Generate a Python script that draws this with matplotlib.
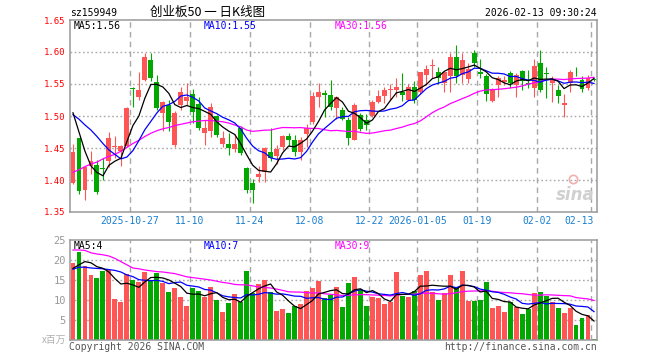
import numpy as np
import pandas as pd
import matplotlib
matplotlib.use('Agg')
import matplotlib.pyplot as plt

# DATA

opens = [1.395, 1.466, 1.384, 1.422, 1.423, 1.418, 1.429, 1.452, 1.445, 1.453,
         1.543, 1.529, 1.557, 1.588, 1.553, 1.505, 1.517, 1.454, 1.517, 1.523,
         1.535, 1.518, 1.474, 1.477, 1.500, 1.456, 1.456, 1.448, 1.481, 1.419,
         1.396, 1.405, 1.412, 1.444, 1.437, 1.452, 1.469, 1.463, 1.444, 1.472,
         1.490, 1.530, 1.536, 1.533, 1.512, 1.509, 1.494, 1.463, 1.502, 1.494,
         1.500, 1.522, 1.531, 1.541, 1.540, 1.538, 1.525, 1.546, 1.537, 1.564,
         1.578, 1.568, 1.551, 1.562, 1.592, 1.564, 1.558, 1.599, 1.568, 1.563,
         1.524, 1.548, 1.553, 1.567, 1.548, 1.571, 1.551, 1.544, 1.583, 1.567,
         1.552, 1.540, 1.517, 1.551, 1.569, 1.556, 1.543, 1.557]
highs = [1.456, 1.466, 1.421, 1.445, 1.431, 1.435, 1.475, 1.468, 1.455, 1.514,
         1.546, 1.568, 1.598, 1.598, 1.564, 1.524, 1.525, 1.508, 1.546, 1.552,
         1.542, 1.530, 1.494, 1.521, 1.502, 1.476, 1.473, 1.472, 1.484, 1.421,
         1.401, 1.422, 1.451, 1.481, 1.455, 1.470, 1.474, 1.470, 1.467, 1.488,
         1.538, 1.551, 1.541, 1.556, 1.531, 1.514, 1.499, 1.520, 1.504, 1.503,
         1.525, 1.541, 1.546, 1.550, 1.559, 1.567, 1.550, 1.554, 1.569, 1.579,
         1.589, 1.576, 1.571, 1.598, 1.611, 1.598, 1.583, 1.603, 1.589, 1.566,
         1.543, 1.562, 1.562, 1.571, 1.567, 1.572, 1.572, 1.589, 1.603, 1.577,
         1.563, 1.548, 1.535, 1.572, 1.577, 1.563, 1.564, 1.558]
lows = [1.394, 1.378, 1.368, 1.410, 1.378, 1.400, 1.421, 1.434, 1.422, 1.452,
        1.514, 1.525, 1.554, 1.555, 1.509, 1.477, 1.476, 1.451, 1.510, 1.517,
        1.489, 1.478, 1.454, 1.467, 1.467, 1.452, 1.439, 1.443, 1.439, 1.380,
        1.364, 1.397, 1.397, 1.429, 1.425, 1.447, 1.453, 1.437, 1.432, 1.452,
        1.488, 1.514, 1.499, 1.509, 1.496, 1.494, 1.455, 1.462, 1.476, 1.478,
        1.499, 1.520, 1.521, 1.525, 1.529, 1.524, 1.524, 1.520, 1.535, 1.548,
        1.559, 1.550, 1.538, 1.538, 1.552, 1.551, 1.551, 1.577, 1.560, 1.524,
        1.522, 1.530, 1.548, 1.543, 1.529, 1.541, 1.543, 1.530, 1.538, 1.528,
        1.522, 1.521, 1.499, 1.537, 1.562, 1.538, 1.541, 1.555]
closes = [1.443, 1.383, 1.421, 1.430, 1.382, 1.417, 1.465, 1.453, 1.453, 1.512,
          1.542, 1.540, 1.592, 1.560, 1.513, 1.522, 1.490, 1.504, 1.537, 1.529,
          1.506, 1.482, 1.482, 1.514, 1.471, 1.465, 1.450, 1.456, 1.442, 1.384,
          1.384, 1.409, 1.450, 1.435, 1.449, 1.469, 1.462, 1.444, 1.463, 1.482,
          1.531, 1.537, 1.533, 1.514, 1.529, 1.496, 1.465, 1.517, 1.479, 1.486,
          1.522, 1.531, 1.540, 1.542, 1.546, 1.533, 1.546, 1.525, 1.568, 1.574,
          1.579, 1.560, 1.568, 1.592, 1.562, 1.588, 1.573, 1.583, 1.566, 1.535,
          1.542, 1.559, 1.557, 1.551, 1.564, 1.554, 1.550, 1.578, 1.540, 1.566,
          1.556, 1.532, 1.520, 1.568, 1.568, 1.542, 1.560, 1.556]
volumes = [19.3, 22.1, 18.5, 16.25, 15.5, 17.25, 17.5, 10.25, 9.5, 16.5,
           15.1, 14.5, 17.0, 15.0, 16.75, 14.3, 12.0, 13.0, 10.75, 8.5,
           13.0, 12.25, 10.8, 13.25, 10.0, 7.0, 9.25, 11.5, 9.5, 17.25,
           11.75, 14.0, 15.0, 12.0, 7.25, 7.75, 6.75, 8.5, 9.0, 12.25,
           13.0, 14.75, 10.5, 11.25, 13.25, 8.25, 14.25, 15.75, 12.5, 8.5,
           10.75, 10.5, 9.0, 9.5, 17.0, 11.0, 10.75, 12.25, 16.25, 17.25,
           12.0, 10.0, 11.75, 16.25, 13.25, 17.25, 9.75, 9.75, 10.0, 14.5,
           8.0, 8.5, 7.0, 9.5, 8.25, 6.5, 7.75, 11.75, 12.0, 11.0,
           9.5, 8.0, 6.75, 8.0, 3.75, 5.5, 6.2, 0.25]

# moving averages at the left edge depend on days before the window,
# so these start values are read off the picture
ma5_head = [1.505, 1.475, 1.445, 1.422]
ma10_head = [1.502, 1.495, 1.486, 1.478, 1.468, 1.457, 1.447, 1.440, 1.433]
ma30_head = [1.412, 1.416, 1.421, 1.425, 1.428, 1.433, 1.437, 1.440, 1.445, 1.451,
             1.457, 1.462, 1.468, 1.473, 1.477, 1.480, 1.482, 1.485, 1.487, 1.489,
             1.491, 1.492, 1.493, 1.493, 1.492, 1.491, 1.489, 1.486, 1.483]
vma5_head = [17.9, 18.8, 19.6, 19.3]
vma10_head = [17.7, 18.2, 18.2, 18.0, 17.9, 17.8, 17.6, 17.4, 17.0]
vma30_head = [22.5, 22.5, 22.4, 21.8, 21.5, 21.3, 21.0, 20.4, 19.6, 18.8,
              18.0, 17.8, 17.5, 17.3, 17.1, 17.0, 16.8, 16.6, 16.2, 15.8,
              15.6, 15.4, 15.2, 15.0, 14.7, 14.4, 14.2, 13.9, 13.8]

tick_idx = [10, 20, 30, 40, 50, 58, 68, 78, 87]
tick_labels = ['2025-10-27', '11-10', '11-24', '12-08', '12-22',
               '2026-01-05', '01-19', '02-02', '02-13']
price_ticks = [1.35, 1.40, 1.45, 1.50, 1.55, 1.60, 1.65]
vol_ticks = [5, 10, 15, 20, 25]

RED = '#ff5555'
GREEN = '#00a800'
GRID = '#a8a8a8'
MONO = 'DejaVu Sans Mono'
CJK = ['Noto Sans CJK SC', 'DejaVu Sans']


def moving(values, window, head):
    ma = pd.Series(values).rolling(window).mean().to_numpy()
    ma[:len(head)] = head
    return ma


o = np.array(opens)
h = np.array(highs)
l = np.array(lows)
c = np.array(closes)
v = np.array(volumes)
n = len(c)
x = np.arange(n) + 0.5
cols = np.where(c >= o, RED, GREEN)

fig = plt.figure(figsize=(6.6, 3.6), dpi=100)
ax = fig.add_axes([70 / 660, 1 - 212 / 360, 527 / 660, 192 / 360])
axv = fig.add_axes([70 / 660, 1 - 340 / 360, 527 / 660, 100 / 360])

# PRICE PANEL
for yv in price_ticks[1:-1]:
    ax.axhline(yv, color=GRID, lw=1.0, ls=(0, (1.2, 1.8)), zorder=0)
for t in tick_idx:
    ax.axvline(t, color=GRID, lw=1.0, ls=(0, (4, 3)), zorder=0)

ax.vlines(x, l, h, colors=cols, lw=0.8, zorder=2)
ax.bar(x, np.maximum(np.abs(c - o), 0.0012), bottom=np.minimum(o, c),
       width=0.82, color=cols, linewidth=0, zorder=3)

ax.plot(x, moving(closes, 30, ma30_head), color='#ff00ff', lw=0.9, zorder=4)
ax.plot(x, moving(closes, 10, ma10_head), color='#0000ff', lw=0.9, zorder=4)
ax.plot(x, moving(closes, 5, ma5_head), color='black', lw=0.9, zorder=5)

ax.set_xlim(0, n)
ax.set_ylim(1.35, 1.65)
ax.set_xticks([])
ax.set_yticks(price_ticks)
ax.set_yticklabels(['%.2f' % p for p in price_ticks], color='red',
                   fontsize=6.5, family=MONO)
ax.tick_params(axis='y', length=0, pad=3)

for i, (t, lab) in enumerate(zip(tick_idx, tick_labels)):
    if i == len(tick_idx) - 1:
        ax.text(t + 0.4, -0.047, lab, transform=ax.get_xaxis_transform(),
                ha='right', va='center', fontsize=7, family=MONO, color='#1a7fd0')
    else:
        ax.text(t, -0.047, lab, transform=ax.get_xaxis_transform(),
                ha='center', va='center', fontsize=7, family=MONO, color='#1a7fd0')

# sina watermark
ax.text(0.995, 0.04, 'sina', transform=ax.transAxes, ha='right', va='bottom',
        fontsize=12, style='italic', weight='bold', color='#d0d0d0', zorder=1)
ax.plot([0.955], [0.17], marker='o', ms=6, mfc='none', mec='#f0b0b0', mew=1.2,
        transform=ax.transAxes, zorder=1)

# VOLUME PANEL
for yv in vol_ticks[:-1]:
    axv.axhline(yv, color=GRID, lw=1.0, ls=(0, (1.2, 1.8)), zorder=0)
for t in tick_idx:
    axv.axvline(t, color=GRID, lw=1.0, ls=(0, (4, 3)), zorder=0)

axv.bar(x, v, width=0.82, color=cols, linewidth=0, zorder=2)
axv.plot(x, moving(volumes, 30, vma30_head), color='#ff00ff', lw=0.9, zorder=4)
axv.plot(x, moving(volumes, 10, vma10_head), color='#0000ff', lw=0.9, zorder=4)
axv.plot(x, moving(volumes, 5, vma5_head), color='black', lw=0.9, zorder=5)

axv.set_xlim(0, n)
axv.set_ylim(0, 25)
axv.set_xticks([])
axv.set_yticks(vol_ticks)
axv.set_yticklabels([str(t) for t in vol_ticks], color='#999999',
                    fontsize=7.5, family=MONO)
axv.tick_params(axis='y', length=0, pad=3)

for a in (ax, axv):
    for s in a.spines.values():
        s.set_color('#999999')
        s.set_linewidth(1.1)

# TEXTS
def ftext(px, py, s, **kw):
    fig.text(px / 660, 1 - py / 360, s, va='center', **kw)

ftext(70, 13, 'sz159949', ha='left', fontsize=7, family=MONO, color='black')
ftext(150, 12.5, '创业板50 一 日K线图', ha='left', fontsize=9, family=CJK, color='black')
ftext(597, 12.5, '2026-02-13 09:30:24', ha='right', fontsize=7, family=MONO, color='black')

ftext(74, 26, 'MA5:1.56', ha='left', fontsize=7, family=MONO, color='black')
ftext(204, 26, 'MA10:1.55', ha='left', fontsize=7, family=MONO, color='#0000ff')
ftext(335, 26, 'MA30:1.56', ha='left', fontsize=7, family=MONO, color='#ff00ff')

ftext(74, 246, 'MA5:4', ha='left', fontsize=7, family=MONO, color='black')
ftext(204, 246, 'MA10:7', ha='left', fontsize=7, family=MONO, color='#0000ff')
ftext(335, 246, 'MA30:9', ha='left', fontsize=7, family=MONO, color='#ff00ff')

ftext(66, 340, 'x百万', ha='right', fontsize=7, family=CJK, color='#b0b0b0')
ftext(69, 347, 'Copyright 2026 SINA.COM', ha='left', fontsize=7, family=MONO, color='#555555')
ftext(597, 347, 'http://finance.sina.com.cn', ha='right', fontsize=7, family=MONO, color='#555555')

fig.savefig('out.png', dpi=100)
